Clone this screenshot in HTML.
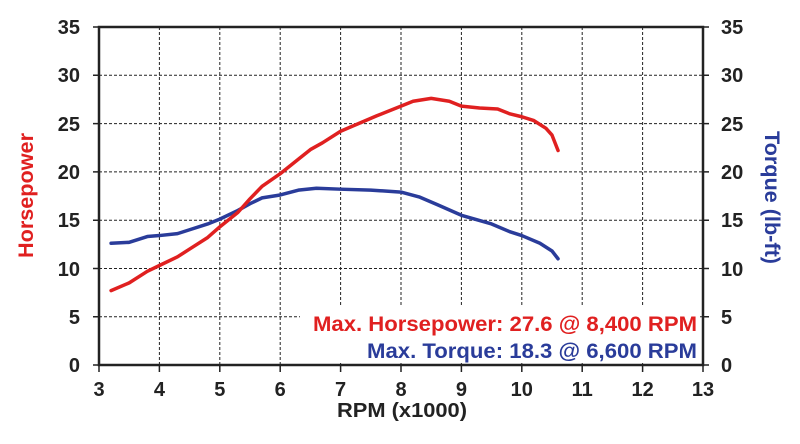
<!DOCTYPE html>
<html><head><style>body{margin:0;background:#fff}svg{display:block}text{font-family:"Liberation Sans",Arial,sans-serif;font-weight:bold}</style></head>
<body>
<svg width="800" height="444" viewBox="0 0 800 444" xmlns="http://www.w3.org/2000/svg">
<g stroke="#222" stroke-width="1" stroke-dasharray="3,2">
<line x1="159.4" y1="27" x2="159.4" y2="365"/><line x1="219.8" y1="27" x2="219.8" y2="365"/><line x1="280.2" y1="27" x2="280.2" y2="365"/><line x1="340.6" y1="27" x2="340.6" y2="365"/><line x1="401" y1="27" x2="401" y2="365"/><line x1="461.4" y1="27" x2="461.4" y2="365"/><line x1="521.8" y1="27" x2="521.8" y2="365"/><line x1="582.2" y1="27" x2="582.2" y2="365"/><line x1="642.6" y1="27" x2="642.6" y2="365"/>
<line x1="99" y1="75.3" x2="703" y2="75.3"/><line x1="99" y1="123.6" x2="703" y2="123.6"/><line x1="99" y1="171.9" x2="703" y2="171.9"/><line x1="99" y1="220.2" x2="703" y2="220.2"/><line x1="99" y1="268.5" x2="703" y2="268.5"/><line x1="99" y1="316.8" x2="703" y2="316.8"/>
</g>
<rect x="300" y="305" width="400" height="58" fill="#fff"/>
<rect x="99" y="27" width="604" height="338" fill="none" stroke="#222" stroke-width="2.5"/>
<g stroke="#222" stroke-width="1.5">
<path d="M93 27H99M93 75.3H99M93 123.6H99M93 171.9H99M93 220.2H99M93 268.5H99M93 316.8H99M93 365H99"/>
<path d="M703 27H709M703 75.3H709M703 123.6H709M703 171.9H709M703 220.2H709M703 268.5H709M703 316.8H709M703 365H709"/>
<path d="M99 365V372M159.4 365V372M219.8 365V372M280.2 365V372M340.6 365V372M401 365V372M461.4 365V372M521.8 365V372M582.2 365V372M642.6 365V372M703 365V372"/>
</g>
<g font-size="20" fill="#222" text-anchor="end">
<text x="80" y="34">35</text><text x="80" y="82">30</text><text x="80" y="131">25</text><text x="80" y="179">20</text><text x="80" y="227">15</text><text x="80" y="276">10</text><text x="80" y="324">5</text><text x="80" y="372">0</text>
</g>
<g font-size="20" fill="#222" text-anchor="start">
<text x="721" y="34">35</text><text x="721" y="82">30</text><text x="721" y="131">25</text><text x="721" y="179">20</text><text x="721" y="227">15</text><text x="721" y="276">10</text><text x="721" y="324">5</text><text x="721" y="372">0</text>
</g>
<g font-size="20" fill="#222" text-anchor="middle">
<text x="99" y="396">3</text><text x="159.4" y="396">4</text><text x="219.8" y="396">5</text><text x="280.2" y="396">6</text><text x="340.6" y="396">7</text><text x="401" y="396">8</text><text x="461.4" y="396">9</text><text x="521.8" y="396">10</text><text x="582.2" y="396">11</text><text x="642.6" y="396">12</text><text x="703" y="396">13</text>
</g>
<text x="337" y="417" font-size="20" fill="#222" textLength="130" lengthAdjust="spacingAndGlyphs">RPM (x1000)</text>
<text transform="translate(33,258) rotate(-90)" font-size="21" fill="#e02020" textLength="125" lengthAdjust="spacingAndGlyphs">Horsepower</text>
<text transform="translate(765,131) rotate(90)" font-size="21" fill="#2a3c9a" textLength="133" lengthAdjust="spacingAndGlyphs">Torque (lb-ft)</text>
<text x="313" y="331" font-size="21" fill="#e02020" textLength="384" lengthAdjust="spacingAndGlyphs">Max. Horsepower: 27.6 @ 8,400 RPM</text>
<text x="367" y="358" font-size="21" fill="#2a3c9a" textLength="330" lengthAdjust="spacingAndGlyphs">Max. Torque: 18.3 @ 6,600 RPM</text>
<g transform="translate(99,365) scale(60.4,-9.66) translate(-3,0)" fill="none" stroke-linejoin="round" stroke-linecap="round">
<polyline vector-effect="non-scaling-stroke" stroke="#2a3c9a" stroke-width="3.5" points="3.2,12.6 3.5,12.7 3.8,13.3 4.0,13.4 4.3,13.6 4.5,14.0 4.8,14.6 5.0,15.1 5.3,16.0 5.5,16.7 5.7,17.3 6.0,17.6 6.3,18.1 6.6,18.3 7.0,18.2 7.5,18.1 8.0,17.9 8.3,17.4 8.6,16.6 9.0,15.5 9.5,14.6 9.8,13.8 10.0,13.4 10.3,12.6 10.5,11.8 10.6,11.0"/>
<polyline vector-effect="non-scaling-stroke" stroke="#e02020" stroke-width="3.5" points="3.2,7.7 3.5,8.5 3.8,9.7 4.0,10.3 4.3,11.2 4.5,12.0 4.8,13.2 5.0,14.3 5.3,15.8 5.5,17.2 5.7,18.5 6.0,19.8 6.3,21.3 6.5,22.3 6.7,23.0 7.0,24.2 7.3,25.0 7.6,25.8 8.0,26.8 8.2,27.3 8.5,27.6 8.8,27.3 9.0,26.8 9.3,26.6 9.6,26.5 9.8,26.0 10.0,25.7 10.2,25.3 10.4,24.5 10.5,23.8 10.6,22.2"/>
</g>
</svg>
</body></html>
